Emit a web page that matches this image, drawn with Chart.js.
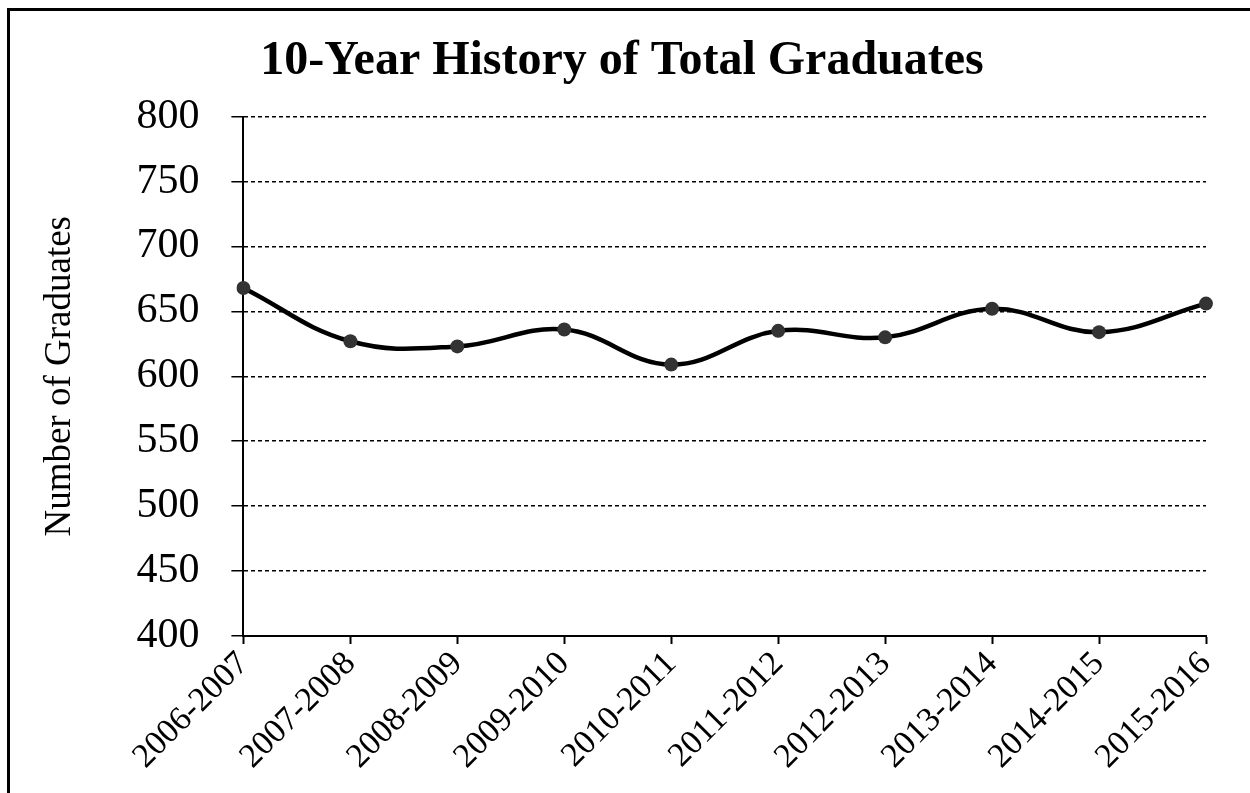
<!DOCTYPE html>
<html>
<head>
<meta charset="utf-8">
<title>10-Year History of Total Graduates</title>
<script src="https://cdn.jsdelivr.net/npm/chart.js@4.4.0/dist/chart.umd.min.js"></script>
<style>
  body { margin: 0; background: #fff; }
  #wrap { position: relative; width: 1250px; height: 793px; overflow: hidden; }
  #frame { position: absolute; left: 7px; top: 8px; width: 1400px; height: 900px; border: 3px solid #000; box-sizing: border-box; }
  canvas { position: absolute; left: 0; top: 0; }
</style>
</head>
<body>
<div id="wrap">
  <div id="frame"></div>
  <canvas id="grafico" width="1250" height="793"></canvas>
</div>
<script>
// dados do grafico
const anos = ["2006-2007", "2007-2008", "2008-2009", "2009-2010", "2010-2011",
              "2011-2012", "2012-2013", "2013-2014", "2014-2015", "2015-2016"];
const graduados = [668, 627, 623, 636, 609, 635, 630, 652, 634, 656];
const eixoMin = 400;
const eixoMax = 800;
const passo = 50;

const fonte = "'Liberation Serif', 'Times New Roman', serif";

const ctx = document.getElementById("grafico").getContext("2d");

new Chart(ctx, {
  type: "line",
  data: {
    labels: anos,
    datasets: [{
      label: "Total Graduates",
      data: graduados,
      borderColor: "#000",
      borderWidth: 4.5,
      tension: 0.4,
      pointRadius: 7,
      pointBackgroundColor: "#333",
      pointBorderWidth: 0,
      fill: false
    }]
  },
  options: {
    responsive: false,
    animation: false,
    layout: { padding: { top: 33, left: 38, right: 44, bottom: 16 } },
    plugins: {
      legend: { display: false },
      tooltip: { enabled: false },
      title: {
        display: true,
        text: "10-Year History of Total Graduates",
        color: "#000",
        font: { family: fonte, size: 48, weight: "bold" },
        padding: { top: 0, bottom: 26 }
      }
    },
    scales: {
      x: {
        offset: false,
        grid: { drawOnChartArea: false, drawTicks: true, tickLength: 8, color: "#000", tickWidth: 2 },
        border: { display: true, color: "#000", width: 2 },
        ticks: {
          color: "#000",
          font: { family: fonte, size: 34 },
          maxRotation: 45,
          minRotation: 45,
          padding: 0,
          autoSkip: false
        }
      },
      y: {
        min: eixoMin,
        max: eixoMax,
        grid: { color: "#000", lineWidth: 1.5, tickLength: 12, tickWidth: 1.5 },
        border: { display: true, color: "#000", width: 2, dash: [4, 3] },
        ticks: {
          stepSize: passo,
          color: "#000",
          font: { family: fonte, size: 42 },
          padding: 32
        },
        title: {
          display: true,
          text: "Number of Graduates",
          color: "#000",
          font: { family: fonte, size: 37 },
          padding: { top: 0, bottom: 22 }
        }
      }
    }
  }
});
</script>
</body>
</html>
